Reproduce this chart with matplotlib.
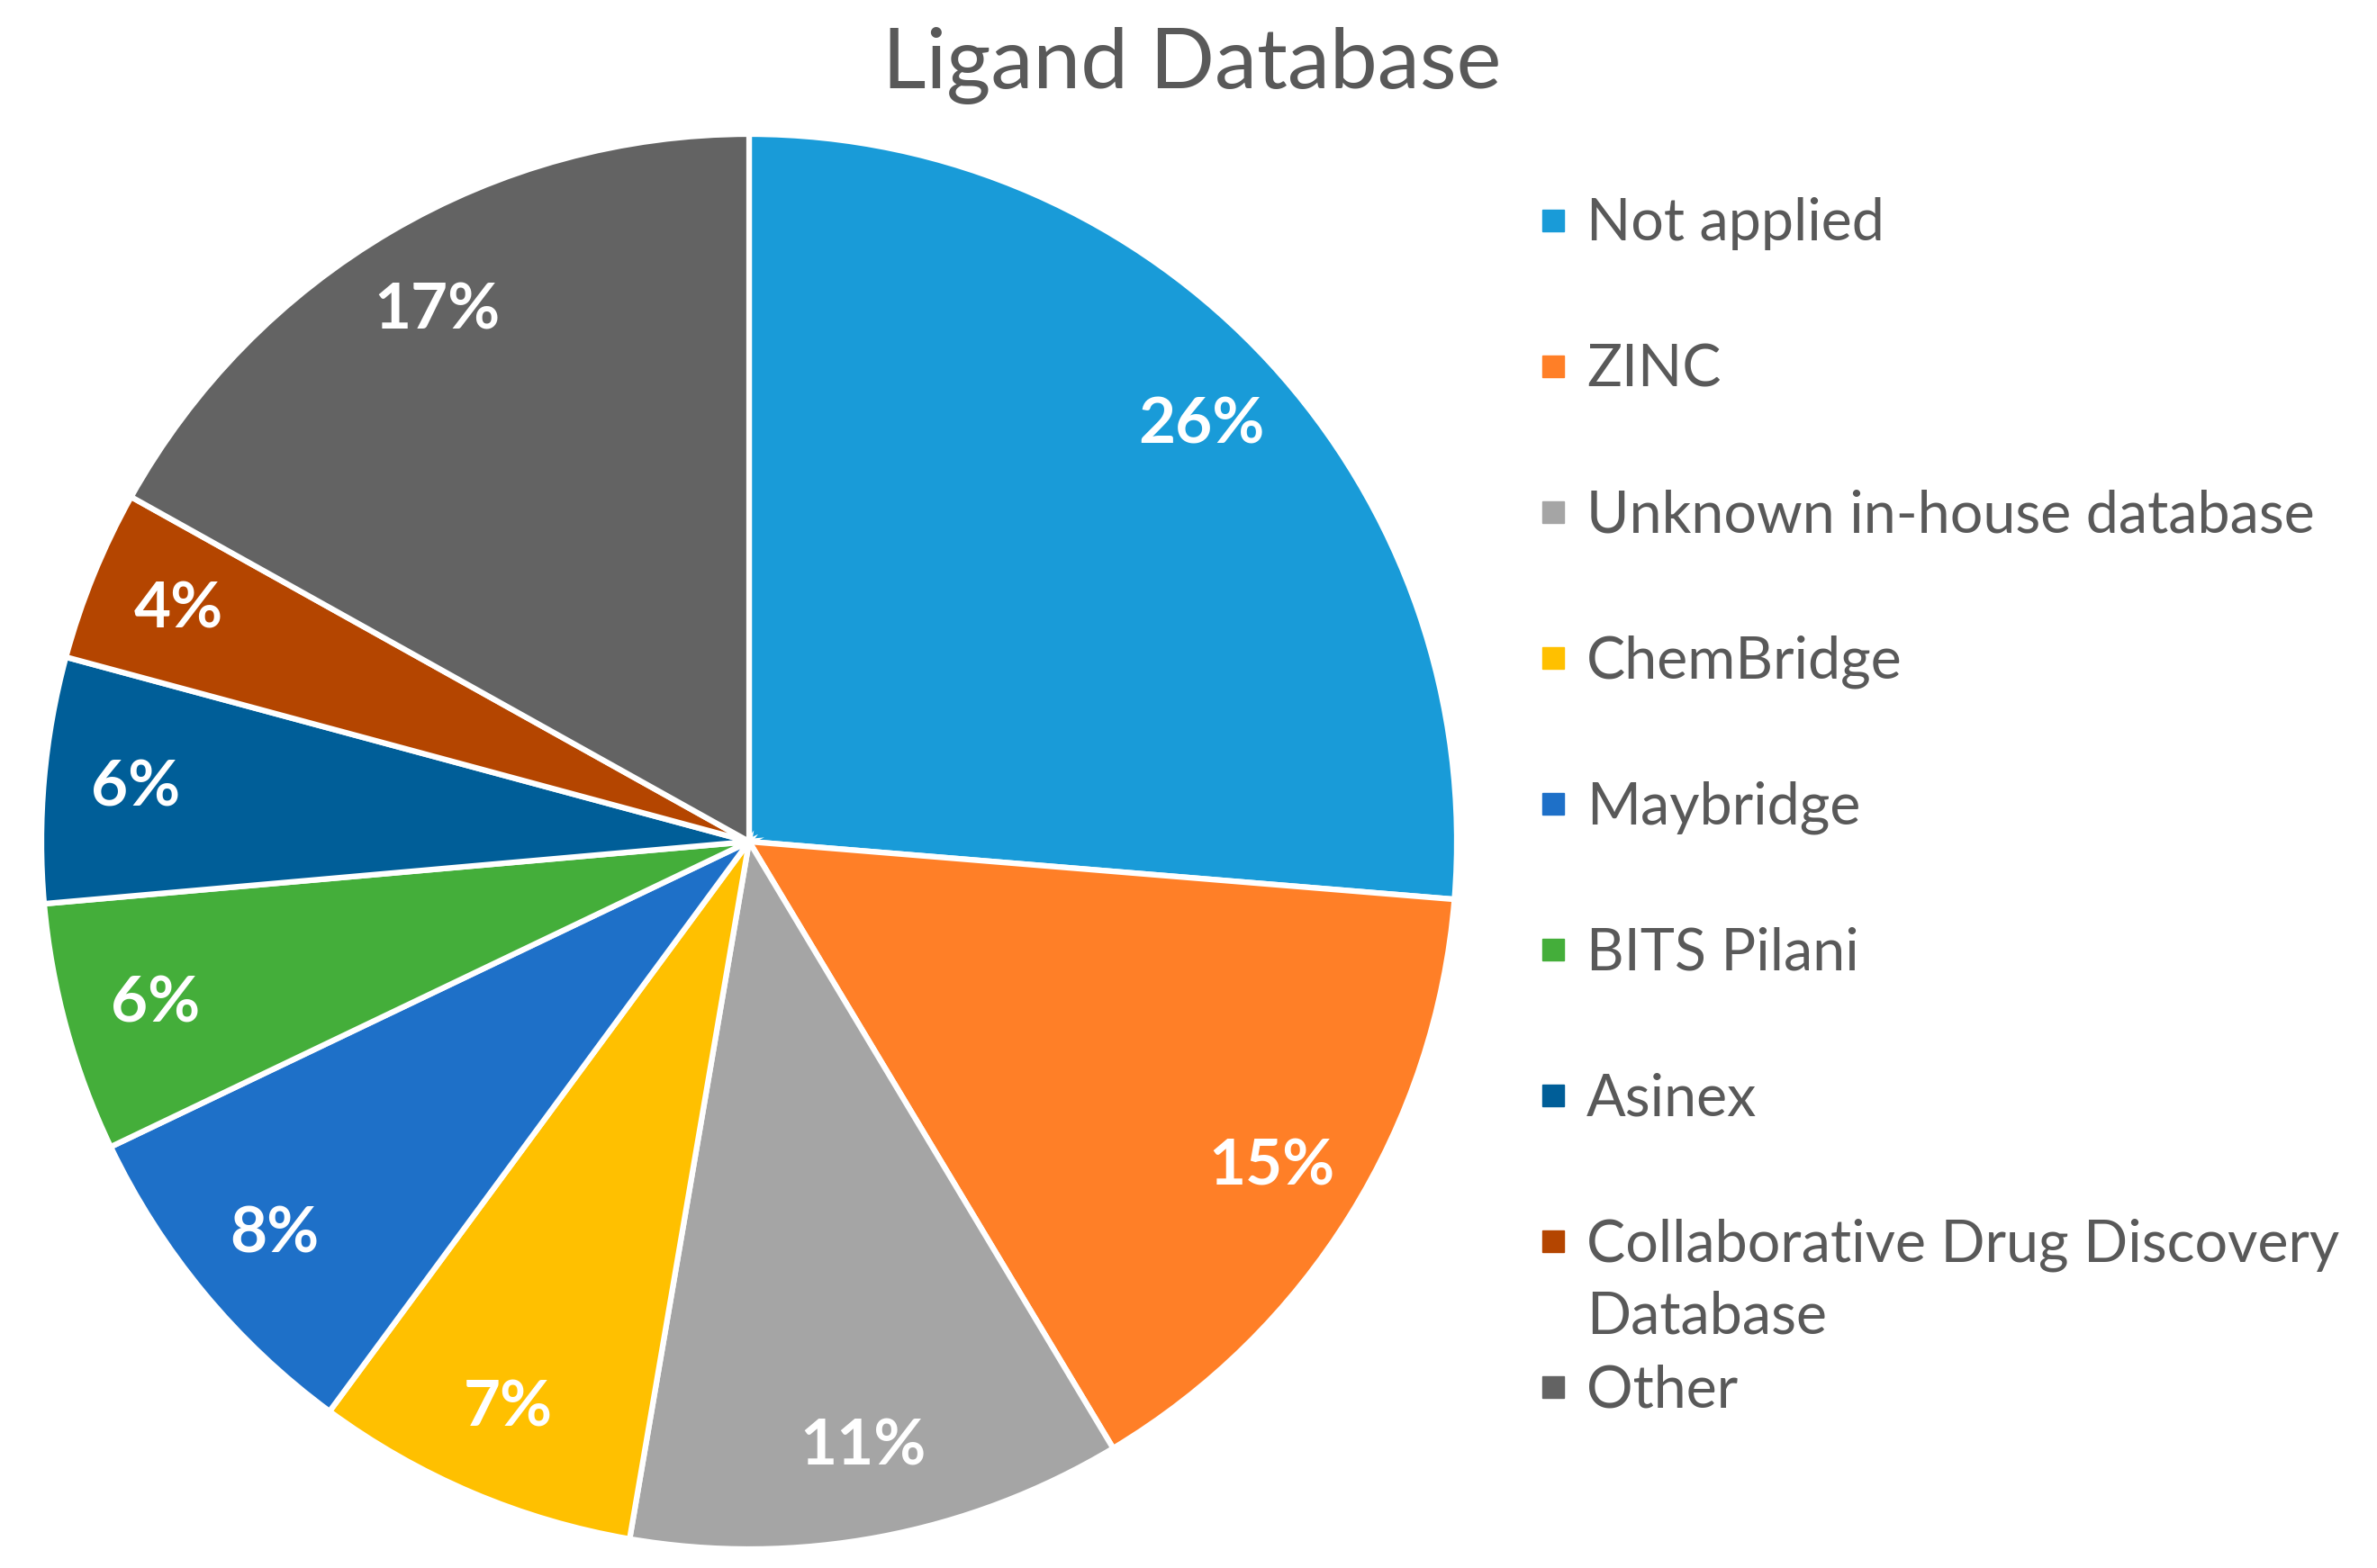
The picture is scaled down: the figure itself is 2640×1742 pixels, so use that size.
#Ligand database pie chart
import numpy as np
import matplotlib.pyplot as plt

# data (percent of studies)
labels = ["Not applied", "ZINC", "Unknown in-house database", "ChemBridge",
          "Maybridge", "BITS Pilani", "Asinex",
          "Collaborative Drug Discovery\nDatabase", "Other"]
shares = [26.3, 15.1, 11.3, 7.4, 7.8, 5.7, 5.6, 3.9, 16.9]
colors = ["#199BD8", "#FF7F27", "#A5A5A5", "#FFC000", "#1E70C8",
          "#44AE3A", "#005E98", "#B44500", "#636363"]
title = "Ligand Database"

W, H = 2640, 1742
txtcol = "#595959"
fam = ["Lato", "DejaVu Sans"]

fig = plt.figure(figsize=(W / 100, H / 100), dpi=100)

# pie axes: centre (832, 935) px, radius 786 px
cx, cy, r = 832, 935, 786
ax = fig.add_axes([(cx - r) / W, (H - cy - r) / H, 2 * r / W, 2 * r / H])
wedges, _, autotexts = ax.pie(
    shares, colors=colors, startangle=90, counterclock=False,
    autopct="%.0f%%", pctdistance=0.87,
    wedgeprops=dict(edgecolor="white", linewidth=4.5),
    textprops=dict(color="white", fontsize=51, fontweight="bold", family=fam))
ax.set_xlim(-1, 1)
ax.set_ylim(-1, 1)

# overlay in pixel coords for title + legend
ov = fig.add_axes([0, 0, 1, 1])
ov.set_xlim(0, W)
ov.set_ylim(H, 0)
ov.axis("off")

ov.text(1324, 98, title, ha="center", va="baseline", fontsize=68,
        color=txtcol, family=fam)

# legend, Excel style: square marker + text, fixed row step
row0, step, line_h = 245, 162, 80
cap_half = 22
for i, (lab, col) in enumerate(zip(labels, colors)):
    y = row0 + i * step
    ov.plot(1725, y, marker="s", markersize=17, color=col, linestyle="none")
    for k, part in enumerate(lab.split("\n")):
        ov.text(1762, y + cap_half + k * line_h, part, ha="left", va="baseline",
                fontsize=46.5, color=txtcol, family=fam)

plt.savefig("out.png", dpi=100)
